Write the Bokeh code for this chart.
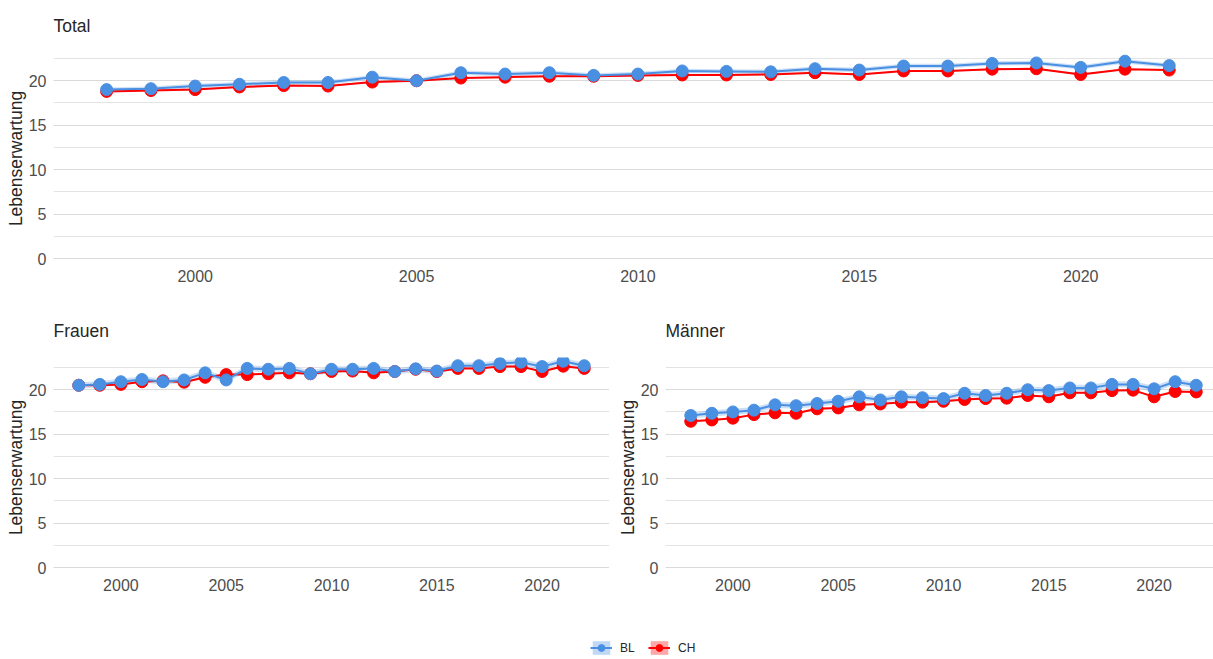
from bokeh.plotting import figure
from bokeh.layouts import column, row
from bokeh.models import Range1d, SingleIntervalTicker, Legend, LegendItem, ColumnDataSource, Title
from bokeh.embed import file_html
from bokeh.resources import INLINE

# ---------------- data ----------------
years = [1998, 1999, 2000, 2001, 2002, 2003, 2004, 2005, 2006, 2007, 2008, 2009,
         2010, 2011, 2012, 2013, 2014, 2015, 2016, 2017, 2018, 2019, 2020, 2021, 2022]

bl_total = [19.0, 19.1, 19.4, 19.6, 19.8, 19.8, 20.4, 20.0, 20.9, 20.75, 20.9, 20.6,
            20.75, 21.1, 21.05, 21.0, 21.35, 21.2, 21.65, 21.65, 21.95, 22.0, 21.5, 22.2, 21.7]
ch_total = [18.8, 18.9, 19.0, 19.3, 19.45, 19.4, 19.85, 20.0, 20.3, 20.4, 20.5, 20.5,
            20.6, 20.65, 20.65, 20.7, 20.9, 20.7, 21.1, 21.1, 21.3, 21.35, 20.7, 21.3, 21.2]

bl_frauen = [20.5, 20.6, 20.9, 21.15, 20.9, 21.1, 21.9, 21.1, 22.4, 22.3, 22.4, 21.8,
             22.3, 22.3, 22.4, 22.05, 22.35, 22.1, 22.7, 22.7, 22.95, 23.1, 22.6, 23.2, 22.7]
ch_frauen = [20.5, 20.5, 20.6, 20.9, 21.0, 20.85, 21.4, 21.7, 21.7, 21.8, 21.9, 21.8,
             22.05, 22.1, 21.9, 22.05, 22.3, 22.05, 22.4, 22.4, 22.6, 22.6, 22.05, 22.65, 22.4]

bl_maenner = [17.1, 17.35, 17.5, 17.7, 18.3, 18.2, 18.45, 18.7, 19.2, 18.85, 19.2, 19.1,
              19.0, 19.6, 19.35, 19.6, 20.0, 19.9, 20.2, 20.2, 20.6, 20.6, 20.1, 20.9, 20.5]
ch_maenner = [16.45, 16.6, 16.8, 17.2, 17.4, 17.35, 17.85, 17.95, 18.3, 18.4, 18.6, 18.6,
              18.7, 18.9, 19.0, 19.05, 19.35, 19.2, 19.65, 19.65, 19.9, 19.95, 19.2, 19.8, 19.75]

# half-width of the confidence ribbons
bl_halfwidth = {"Total": 0.25, "Frauen": 0.35, "Männer": 0.35}
ch_halfwidth = {"Total": 0.08, "Frauen": 0.08, "Männer": 0.08}

series_names = ["BL", "CH"]
y_label = "Lebenserwartung"

# ---------------- styles ----------------
BLUE = "#4A90E2"
RED = "#FF0000"
FONT = "Liberation Sans"
TICK_COLOR = "#4d4d4d"
TEXT_COLOR = "#262626"


def make_panel(title, bl, ch, width, border_left, x_end):
    top = title == "Total"
    p = figure(width=width, height=300,
               output_backend="svg", toolbar_location=None,
               x_range=Range1d(1996.8, x_end), y_range=Range1d(-1.125, 23.625),
               min_border_left=border_left, min_border_right=0,
               min_border_top=48 if top else 57,
               min_border_bottom=32 if top else 23)
    p.outline_line_color = None
    p.background_fill_color = "white"
    p.border_fill_color = "white"

    p.add_layout(Title(text=title, align="left", text_font=FONT,
                       text_font_size="17.5px", text_font_style="normal",
                       text_color=TEXT_COLOR, standoff=26 if top else 33), "above")

    hb = bl_halfwidth[title]
    hc = ch_halfwidth[title]
    src = ColumnDataSource(dict(
        x=years, bl=bl, ch=ch,
        bl_lo=[v - hb for v in bl], bl_hi=[v + hb for v in bl],
        ch_lo=[v - hc for v in ch], ch_hi=[v + hc for v in ch]))

    p.varea(x="x", y1="bl_lo", y2="bl_hi", source=src, fill_color=BLUE, fill_alpha=0.28)
    p.varea(x="x", y1="ch_lo", y2="ch_hi", source=src, fill_color=RED, fill_alpha=0.3)
    p.line(x="x", y="ch", source=src, line_color=RED, line_width=2)
    p.scatter(x="x", y="ch", source=src, size=12, fill_color=RED, line_color=RED)
    p.line(x="x", y="bl", source=src, line_color=BLUE, line_width=2)
    p.scatter(x="x", y="bl", source=src, size=12, fill_color=BLUE, line_color=BLUE)

    p.xaxis.ticker = SingleIntervalTicker(interval=5, num_minor_ticks=0)
    p.yaxis.ticker = SingleIntervalTicker(interval=5, num_minor_ticks=2)
    p.xgrid.grid_line_color = None
    p.ygrid.grid_line_color = "#dadada"
    p.ygrid.grid_line_width = 1
    p.ygrid.minor_grid_line_color = "#e3e3e3"
    p.ygrid.minor_grid_line_width = 1

    for ax in (p.xaxis, p.yaxis):
        ax.axis_line_color = None
        ax.major_tick_line_color = None
        ax.minor_tick_line_color = None
        ax.major_label_text_font = FONT
        ax.major_label_text_font_size = "16px"
        ax.major_label_text_color = TICK_COLOR
    p.xaxis.major_label_standoff = -5
    p.yaxis.major_label_standoff = 1
    p.yaxis.axis_label = y_label
    p.yaxis.axis_label_text_font = FONT
    p.yaxis.axis_label_text_font_size = "17.5px"
    p.yaxis.axis_label_text_font_style = "normal"
    p.yaxis.axis_label_text_color = TEXT_COLOR
    p.yaxis.axis_label_standoff = 0
    return p


p_total = make_panel("Total", bl_total, ch_total, 1213, 53, 2023.0)
p_frauen = make_panel("Frauen", bl_frauen, ch_frauen, 609, 53, 2023.2)
p_maenner = make_panel("Männer", bl_maenner, ch_maenner, 604, 56, 2022.82)

# ---------------- legend ----------------
leg = figure(width=1213, height=59, output_backend="svg", toolbar_location=None,
             x_range=Range1d(0, 1), y_range=Range1d(0, 1),
             min_border_left=0, min_border_right=0, min_border_top=0, min_border_bottom=0)
leg.axis.visible = False
leg.grid.visible = False
leg.outline_line_color = None
# dummy renderers (outside the visible range) that only serve the legend
dummy = ColumnDataSource(dict(x=[-10, -9], y=[-10, -10], y1=[-11, -11], y2=[-9, -9]))
items = []
for name, col in zip(series_names, [BLUE, RED]):
    r1 = leg.varea(x="x", y1="y1", y2="y2", source=dummy, fill_color=col, fill_alpha=0.35)
    r2 = leg.line(x="x", y="y", source=dummy, line_color=col, line_width=2)
    r3 = leg.scatter(x="x", y="y", source=dummy, size=10, fill_color=col, line_color=col)
    items.append(LegendItem(label=name, renderers=[r1, r2, r3]))
legend = Legend(items=items, orientation="horizontal", location=(537, 3),
                glyph_width=22, glyph_height=17, label_standoff=8, spacing=8,
                padding=0, margin=0, border_line_alpha=0, background_fill_alpha=0,
                label_text_font=FONT, label_text_font_size="12px",
                label_text_color=TEXT_COLOR)
leg.add_layout(legend, "center")

layout = column(p_total, row(p_frauen, p_maenner), leg)
open("out.html", "w").write(file_html(layout, INLINE))
